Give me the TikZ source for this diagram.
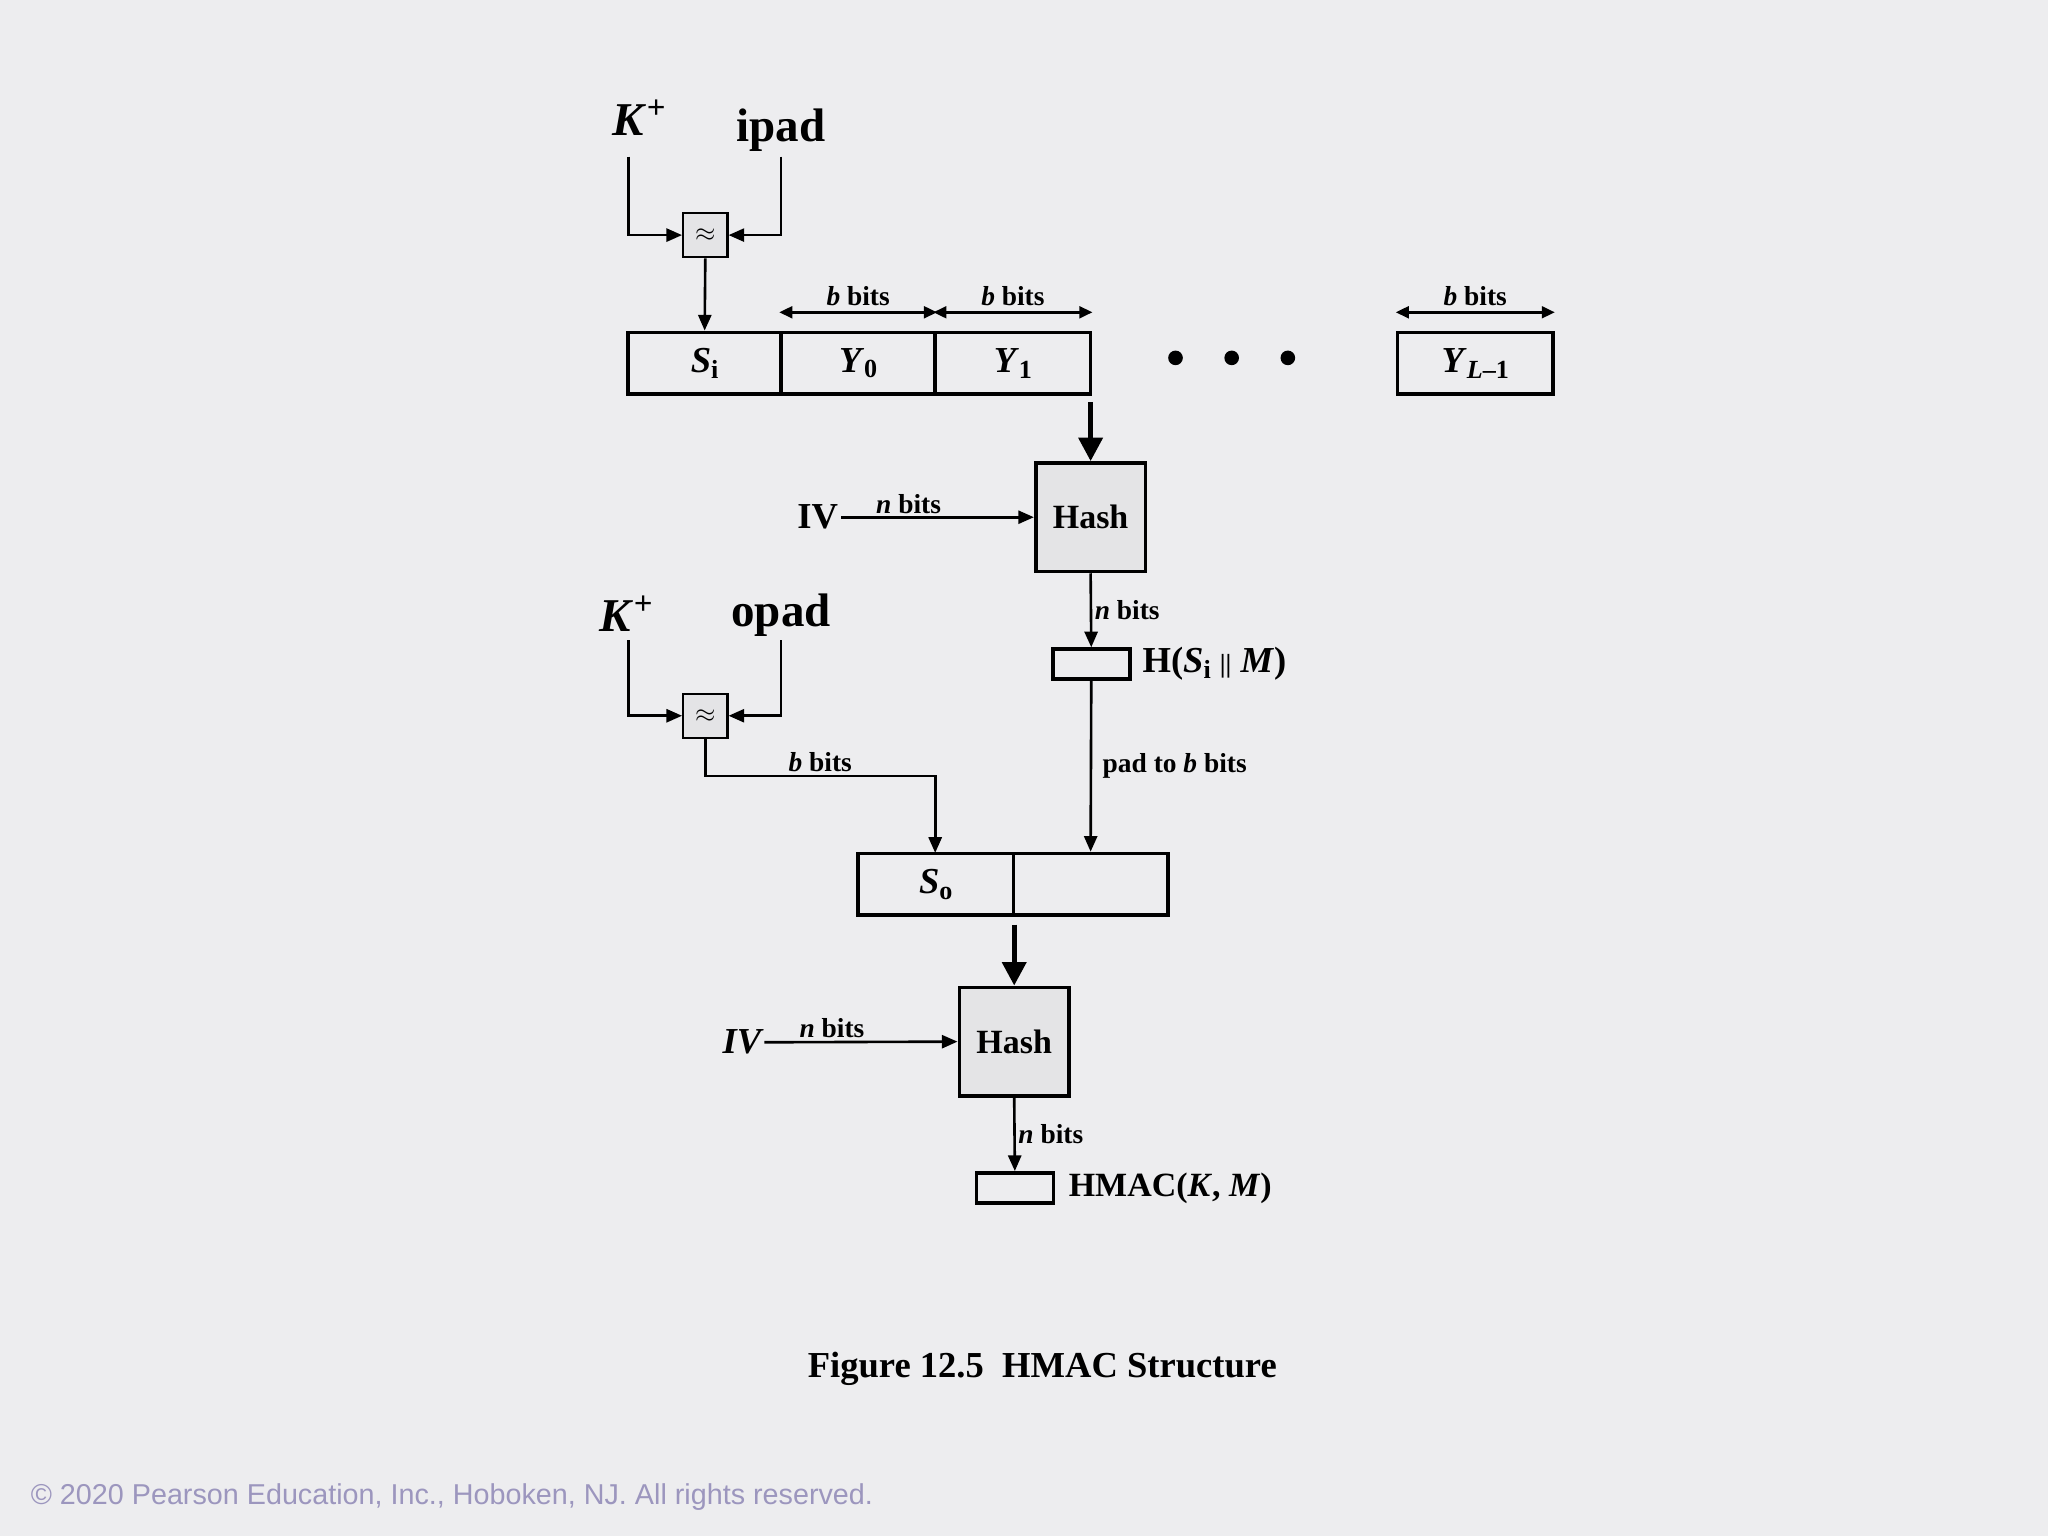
\documentclass[tikz,border=0pt]{standalone}
\usepackage{fontspec}
\setmainfont{Liberation Serif}
\newfontfamily\cpyfont{Liberation Sans}
\usetikzlibrary{arrows.meta}
\definecolor{bgcol}{HTML}{EDEDEF}
\definecolor{hashfill}{HTML}{E4E4E6}
\definecolor{cpycol}{HTML}{9C96BE}
\newcommand{\bi}[1]{\textbf{\textit{#1}}}
\newcommand{\sbs}[1]{\raisebox{-0.35ex}{\fontsize{10}{10}\selectfont\bfseries #1}}
\tikzset{
  blk/.style={draw,line width=1.4pt,minimum height=23.5pt,inner sep=0pt,font=\fontsize{14}{14}\selectfont\bfseries},
  hashbox/.style={draw,line width=1.4pt,fill=hashfill,minimum width=42pt,minimum height=41.5pt,inner sep=0pt,font=\fontsize{13}{13}\selectfont\bfseries},
  xorbox/.style={draw,line width=0.8pt,fill=hashfill,minimum size=17pt,inner sep=0pt,font=\bfseries},
  outbox/.style={draw,line width=1.4pt,minimum width=29.5pt,minimum height=11.5pt,inner sep=0pt},
  lbl/.style={font=\fontsize{10.5}{10.5}\selectfont\bfseries,inner sep=1pt},
  big/.style={font=\fontsize{18}{18}\selectfont\bfseries,inner sep=1pt},
  con/.style={line width=1pt,-{Triangle[length=6pt,width=5pt]}},
  thick con/.style={line width=2pt,-{Triangle[length=9pt,width=9pt]}},
  dbl/.style={line width=1pt,{Triangle[length=5pt,width=4.5pt]}-{Triangle[length=5pt,width=4.5pt]}}
}
\begin{document}
\begin{tikzpicture}[x=0.5pt,y=-0.5pt]
\fill[bgcol] (0,0) rectangle (1568,1176);
\useasboundingbox (0,0) rectangle (1568,1176);
% inner part
\node[big] (k1) at (490,90) {\bi{K}\textsuperscript{+}};
\node[big] (ipad) at (598,100) {ipad};
\node[xorbox] (x1) at (540,180) {$\approx$};
\coordinate (k1d) at (481,120);
\coordinate (ipd) at (598,120);
\draw[con] (k1d) |- (x1.west);
\draw[con] (ipd) |- (x1.east);
\node[blk,minimum width=58.5pt] (si) at (539.5,278) {\bi{S}\sbs{i}};
\node[blk,minimum width=59pt] (y0) at (657,278) {\bi{Y}\sbs{0}};
\node[blk,minimum width=59.5pt] (y1) at (775.5,278) {\bi{Y}\sbs{1}};
\node[blk,minimum width=59.5pt] (yl) at (1129.5,278) {\bi{Y}\sbs{\textit{L}--1}};
\draw[con] (x1.south) -- (si.north);
\foreach \x in {900,943,986} \fill (\x,274) circle (2.8pt);
\foreach \n in {y0,y1,yl}{
  \coordinate (l\n) at ([yshift=7pt]\n.north west);
  \coordinate (r\n) at ([yshift=7pt]\n.north east);
  \draw[dbl] (l\n) -- (r\n) node[lbl,midway,above=1pt] {\textit{b} bits};
}
\node[hashbox] (h1) at (835,396) {Hash};
\coordinate (in1) at (835,308);
\draw[thick con] (in1) -- (h1.north);
\node[font=\fontsize{14}{14}\selectfont\bfseries,inner sep=1pt] (iv1) at (626,396) {IV};
\draw[con] (iv1.east) -- (h1.west) node[lbl,pos=0.35,above] {\textit{n} bits};
\node[outbox] (hs) at (835.5,508.5) {};
\node[font=\fontsize{14}{14}\selectfont\bfseries,anchor=west,inner sep=4pt] (hsl) at (hs.east) {H(\bi{S}\sbs{i} {\fontsize{10}{10}\selectfont||} \bi{M})};
\draw[con] (h1.south) -- (hs.north) node[lbl,midway,right] {\textit{n} bits};
% outer part
\node[big] (k2) at (480,470) {\bi{K}\textsuperscript{+}};
\node[big] (opad) at (598,471) {opad};
\node[xorbox] (x2) at (540,548) {$\approx$};
\coordinate (k2d) at (481,490);
\coordinate (opd) at (598,490);
\draw[con] (k2d) |- (x2.west);
\draw[con] (opd) |- (x2.east);
\node[blk,minimum width=59.5pt] (so) at (716.5,677) {\bi{S}\sbs{o}};
\node[blk,minimum width=59pt] (sp) at (835,677) {};
\coordinate (bend) at (540,594);
\coordinate (sotop) at (716,653);
\draw[con] (x2.south) -- (bend) -| node[lbl,pos=0.25,above] {\textit{b} bits} (sotop);
\draw[con] (hs.south) -- (sp.north) node[lbl,midway,right=3pt] {pad to \textit{b} bits};
\node[hashbox] (h2) at (776.5,797.5) {Hash};
\coordinate (in2) at (776.5,708);
\draw[thick con] (in2) -- (h2.north);
\node[font=\fontsize{14}{14}\selectfont\bfseries\itshape,inner sep=1pt] (iv2) at (568,798) {IV};
\draw[con] (iv2.east) -- (h2.west) node[lbl,pos=0.35,above] {\textit{n} bits};
\node[outbox] (hm) at (777,909.5) {};
\node[font=\fontsize{13}{13}\selectfont\bfseries,anchor=west,inner sep=5pt] (hml) at (hm.east) {HMAC(\bi{K}, \bi{M})};
\draw[con] (h2.south) -- (hm.north) node[lbl,midway,right] {\textit{n} bits};
% caption
\node[font=\fontsize{14}{14}\selectfont\bfseries] (cap) at (798,1048) {Figure 12.5\ \ HMAC Structure};
\node[font=\fontsize{11}{11}\selectfont\cpyfont,text=cpycol] (cpy) at (346,1146) {\textcopyright\ 2020 Pearson Education, Inc., Hoboken, NJ. All rights reserved.};
\end{tikzpicture}
\end{document}
